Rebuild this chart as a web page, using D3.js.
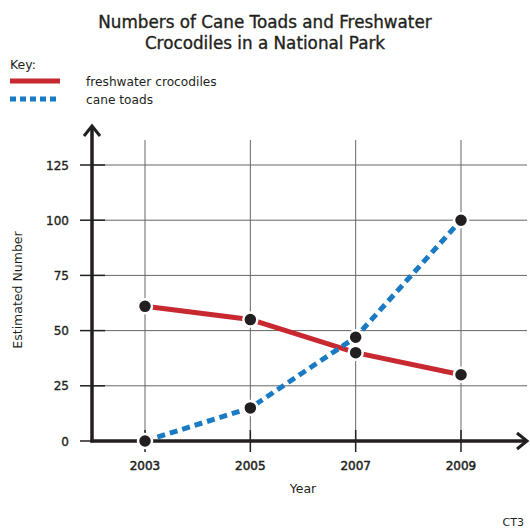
<!DOCTYPE html>
<html>
<head>
<meta charset="utf-8">
<script src="https://cdnjs.cloudflare.com/ajax/libs/d3/7.8.5/d3.min.js"></script>
<style>
  body { margin: 0; background: #fff; }
  svg text { font-family: "DejaVu Sans", Verdana, sans-serif; fill: #231f20; }
  .med { stroke: #231f20; stroke-width: 0.35px; }
</style>
</head>
<body>
<svg id="chart" width="530" height="529"></svg>
<script>
// data
var years = [2003, 2005, 2007, 2009];
var crocodiles = [61, 55, 40, 30];
var caneToads = [0, 15, 47, 100];
var yTicks = [0, 25, 50, 75, 100, 125];

var svg = d3.select("#chart");

// scales
var x = d3.scaleLinear().domain([2003, 2009]).range([145, 461]);
var y = d3.scaleLinear().domain([0, 125]).range([441, 165]);

var axisX0 = 92;

// title
svg.append("text").attr("class", "med").attr("x", 265).attr("y", 28).attr("text-anchor", "middle")
    .style("font-size", "16.8px").text("Numbers of Cane Toads and Freshwater");
svg.append("text").attr("class", "med").attr("x", 265).attr("y", 49).attr("text-anchor", "middle")
    .style("font-size", "16.8px").text("Crocodiles in a National Park");

// key
svg.append("text").attr("x", 10).attr("y", 69).style("font-size", "12.5px").text("Key:");
svg.append("line").attr("x1", 10).attr("x2", 60).attr("y1", 81).attr("y2", 81)
    .attr("stroke", "#c8282f").attr("stroke-width", 5);
svg.append("text").attr("x", 86).attr("y", 86).style("font-size", "12.2px").text("freshwater crocodiles");
svg.append("line").attr("x1", 10).attr("x2", 60).attr("y1", 99).attr("y2", 99)
    .attr("stroke", "#1a7bc4").attr("stroke-width", 5).attr("stroke-dasharray", "6,4");
svg.append("text").attr("x", 86).attr("y", 104).style("font-size", "12.2px").text("cane toads");

// horizontal grid + y ticks
var grid = svg.append("g");
yTicks.filter(function(d) { return d > 0; }).forEach(function(d) {
  grid.append("line").attr("x1", axisX0).attr("x2", 527)
      .attr("y1", y(d)).attr("y2", y(d))
      .attr("stroke", "#666").attr("stroke-width", 1);
});
yTicks.forEach(function(d) {
  grid.append("line").attr("x1", 80).attr("x2", 105)
      .attr("y1", y(d)).attr("y2", y(d))
      .attr("stroke", "#231f20").attr("stroke-width", 1.5);
  svg.append("text").attr("class", "med").attr("x", 69).attr("y", y(d) + 4.5).attr("text-anchor", "end")
      .style("font-size", "12px").text(d);
});

// vertical grid + x ticks
years.forEach(function(d) {
  grid.append("line").attr("x1", x(d)).attr("x2", x(d))
      .attr("y1", 140).attr("y2", 441)
      .attr("stroke", "#666").attr("stroke-width", 1);
  grid.append("line").attr("x1", x(d)).attr("x2", x(d))
      .attr("y1", 430).attr("y2", 452)
      .attr("stroke", "#231f20").attr("stroke-width", 1.5);
  svg.append("text").attr("class", "med").attr("x", x(d)).attr("y", 470).attr("text-anchor", "middle")
      .style("font-size", "12px").style("stroke-width", "0.5px").text(d);
});

// axes with arrows
svg.append("line").attr("x1", axisX0).attr("x2", axisX0).attr("y1", 442.5).attr("y2", 126)
    .attr("stroke", "#231f20").attr("stroke-width", 3.5);
svg.append("polyline").attr("points", (axisX0 - 8) + ",136 " + axisX0 + ",126 " + (axisX0 + 8) + ",136")
    .attr("fill", "none").attr("stroke", "#231f20").attr("stroke-width", 3);
svg.append("line").attr("x1", axisX0 - 1.5).attr("x2", 527).attr("y1", 441).attr("y2", 441)
    .attr("stroke", "#231f20").attr("stroke-width", 3.5);
svg.append("polyline").attr("points", "517,433 527,441 517,449")
    .attr("fill", "none").attr("stroke", "#231f20").attr("stroke-width", 3);

// axis titles
svg.append("text").attr("transform", "translate(22,290) rotate(-90)")
    .attr("text-anchor", "middle").style("font-size", "12.5px").text("Estimated Number");
svg.append("text").attr("x", 303).attr("y", 493).attr("text-anchor", "middle")
    .style("font-size", "12.5px").text("Year");
svg.append("text").attr("x", 524).attr("y", 526).attr("text-anchor", "end")
    .style("font-size", "11px").text("CT3");

// series lines
var line = d3.line().x(function(d, i) { return x(years[i]); }).y(function(d) { return y(d); });

svg.append("path").datum(crocodiles).attr("d", line)
    .attr("fill", "none").attr("stroke", "#c8282f").attr("stroke-width", 5);
svg.append("path").datum(caneToads).attr("d", line)
    .attr("fill", "none").attr("stroke", "#1a7bc4").attr("stroke-width", 5)
    .attr("stroke-dasharray", "8,5");

// markers
[crocodiles, caneToads].forEach(function(series) {
  svg.append("g").selectAll("circle").data(series).enter().append("circle")
      .attr("cx", function(d, i) { return x(years[i]); })
      .attr("cy", function(d) { return y(d); })
      .attr("r", 7)
      .attr("fill", "#231f20")
      .attr("stroke", "#fff").attr("stroke-width", 2.5);
});
</script>
</body>
</html>
